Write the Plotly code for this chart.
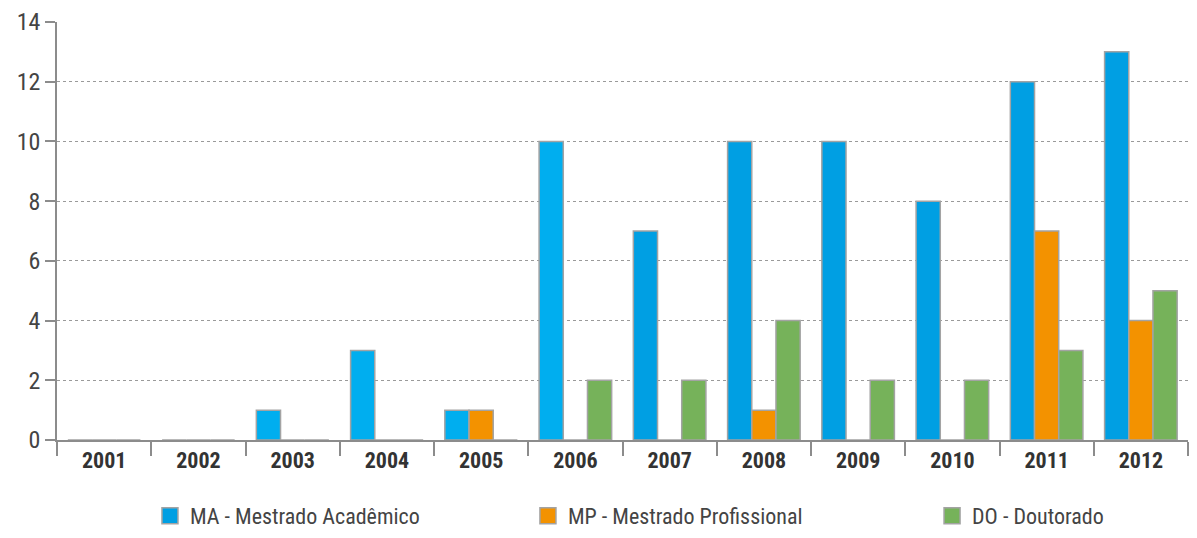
import plotly.graph_objects as go

years = ["2001", "2002", "2003", "2004", "2005", "2006", "2007", "2008", "2009", "2010", "2011", "2012"]
ma_values = [0, 0, 1, 3, 1, 10, 7, 10, 10, 8, 12, 13]
mp_values = [0, 0, 0, 0, 1, 0, 0, 1, 0, 0, 7, 4]
do_values = [0, 0, 0, 0, 0, 2, 2, 4, 2, 2, 3, 5]
series_names = ["MA - Mestrado Acadêmico", "MP - Mestrado Profissional", "DO - Doutorado"]

FONT = "Liberation Sans Narrow, Roboto Condensed, Arial Narrow, Liberation Sans, sans-serif"
LIGHT_BLUE = "#00AEEF"
BLUE = "#009FE3"
ORANGE = "#F39200"
GREEN = "#76B25A"
OUTLINE = "#A3A3A3"

ma_colors = [LIGHT_BLUE if int(y) <= 2006 else BLUE for y in years]

fig = go.Figure()
fig.add_trace(go.Bar(x=years, y=ma_values, name=series_names[0], showlegend=False,
                     marker=dict(color=ma_colors, line=dict(color=OUTLINE, width=1.5))))
fig.add_trace(go.Bar(x=years, y=mp_values, name=series_names[1], showlegend=False,
                     marker=dict(color=ORANGE, line=dict(color=OUTLINE, width=1.5))))
fig.add_trace(go.Bar(x=years, y=do_values, name=series_names[2], showlegend=False,
                     marker=dict(color=GREEN, line=dict(color=OUTLINE, width=1.5))))

# legend entries (larger square symbols), one legend each for exact placement
legend_colors = [BLUE, ORANGE, GREEN]
legend_ids = ["legend", "legend2", "legend3"]
for name, col, lid in zip(series_names, legend_colors, legend_ids):
    fig.add_trace(go.Scatter(x=[None], y=[None], mode="markers", name=name, legend=lid,
                             marker=dict(symbol="square", size=16, color=col,
                                         line=dict(color=OUTLINE, width=1.5))))

legend_common = dict(orientation="h", yanchor="bottom", y=-0.232, xanchor="left",
                     font=dict(family=FONT, size=22, color="#444444"),
                     bgcolor="rgba(0,0,0,0)", itemsizing="trace")
fig.update_layout(
    width=1197, height=538,
    margin=dict(l=57, r=9, t=22, b=98, autoexpand=False),
    paper_bgcolor="white", plot_bgcolor="white",
    barmode="group", bargap=0.23, bargroupgap=0,
    font=dict(family=FONT, color="#444444"),
    legend=dict(x=0.0822, **legend_common),
    legend2=dict(x=0.4164, **legend_common),
    legend3=dict(x=0.7737, **legend_common),
    xaxis=dict(type="category", showline=True, linecolor="#8C8C8C", linewidth=1.5,
               ticks="outside", tickson="boundaries", ticklen=14, tickcolor="#8C8C8C",
               tickwidth=1.5, showgrid=False,
               tickfont=dict(family=FONT, size=22, color="#333333", weight="bold")),
    yaxis=dict(range=[0, 14], dtick=2, showline=True, linecolor="#8C8C8C", linewidth=1.5,
               ticks="outside", ticklen=10, tickcolor="#8C8C8C", tickwidth=1.5,
               showgrid=True, gridcolor="#9A9A9A", griddash="dot", gridwidth=1,
               zeroline=False,
               tickfont=dict(family=FONT, size=24, color="#444444")),
)

fig.write_html("out.html")
